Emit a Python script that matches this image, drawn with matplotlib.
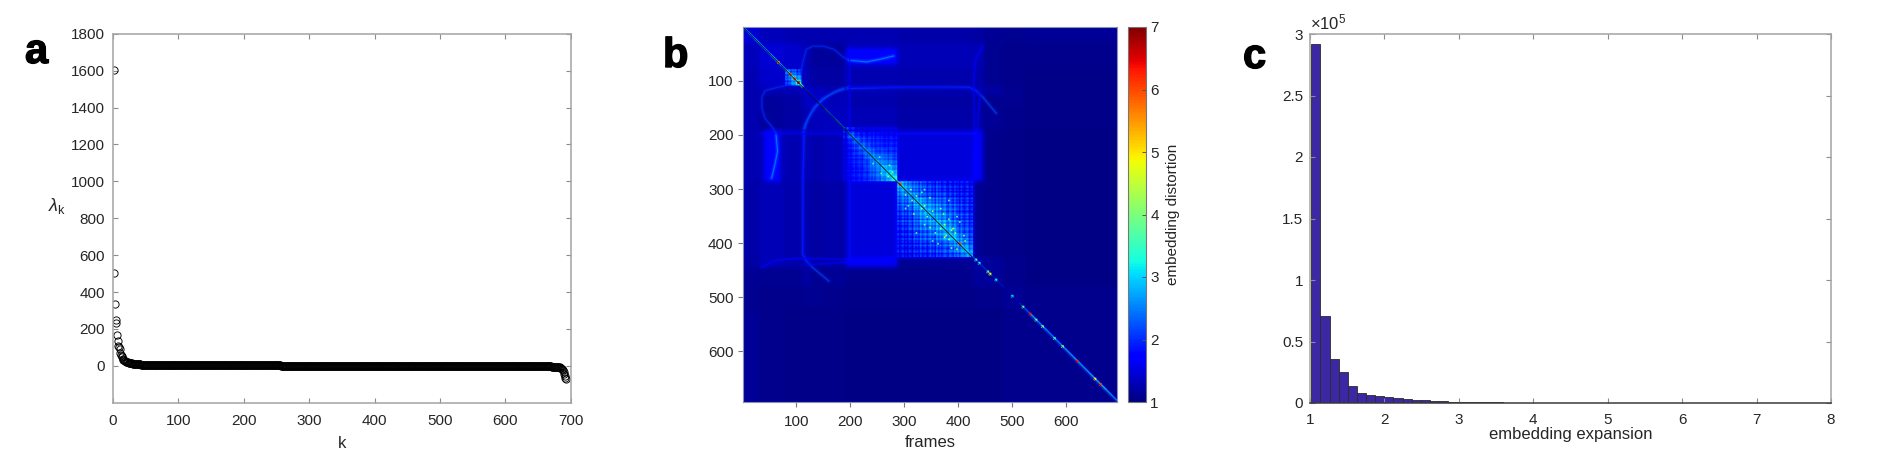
import numpy as np
import matplotlib
matplotlib.use("Agg")
import matplotlib.pyplot as plt
import matplotlib.patheffects as pe

plt.rcParams['font.family'] = ['Liberation Sans', 'DejaVu Sans']
plt.rcParams['mathtext.fontset'] = 'custom'
plt.rcParams['mathtext.rm'] = 'Liberation Sans'
plt.rcParams['mathtext.it'] = 'Liberation Sans:italic'
plt.rcParams['font.size'] = 11

W, H = 1895, 454
TXT = '#262626'
GREY = '#a3a3a3'

# panel a: eigenvalues, leading ones read one by one, then runs of nearly equal values
lambda_head = [1605, 505, 335, 250, 230, 165, 135, 105, 100, 90, 72, 60, 52, 45, 38, 33, 30, 27, 25, 23,
               21, 20, 18.5, 17, 16, 15, 14, 13.2, 12.5, 12, 11.4, 10.9, 10.4, 10, 9.6, 9.2, 8.8, 8.5, 8.2, 7.9,
               7.6, 7.3, 7, 6.8, 6.6, 6.4, 6.2, 6, 5.8, 5.6]
lambda_runs = [5, 4.5, 4, 3.5, 3, 2.5, 2, 1.5, 1, 0.5, 0, -0.5, -1, -1.5, -2, -2.5, -3, -4]
lambda_run_len = [8, 12, 18, 28, 40, 50, 50, 50, 50, 50, 50, 50, 40, 40, 30, 30, 24, 8]
lambda_tail = [-5, -5.5, -6, -7, -8, -10, -12, -15, -19, -25, -33, -42, -55, -65, -72]

# panel b: coarse regions of the distortion matrix (frames), upper triangle is read
region_edges = [0, 30, 75, 110, 125, 150, 190, 285, 425, 445, 480, 520, 693]
region_vals = [
    [1.45, 1.32, 1.28, 1.28, 1.28, 1.28, 1.28, 1.22, 1.20, 1.12, 1.10, 1.12],
    [0, 1.45, 1.40, 1.28, 1.16, 1.16, 1.30, 1.30, 1.30, 1.10, 1.08, 1.08],
    [0, 0, 1.45, 1.30, 1.20, 1.20, 1.28, 1.25, 1.25, 1.10, 1.08, 1.06],
    [0, 0, 0, 1.40, 1.35, 1.28, 1.30, 1.25, 1.30, 1.20, 1.10, 1.06],
    [0, 0, 0, 0, 1.40, 1.32, 1.25, 1.20, 1.20, 1.10, 1.10, 1.05],
    [0, 0, 0, 0, 0, 1.35, 1.30, 1.22, 1.20, 1.12, 1.08, 1.05],
    [0, 0, 0, 0, 0, 0, 1.80, 1.48, 1.40, 1.08, 1.05, 1.04],
    [0, 0, 0, 0, 0, 0, 0, 2.00, 1.12, 1.08, 1.05, 1.04],
    [0, 0, 0, 0, 0, 0, 0, 0, 1.25, 1.15, 1.08, 1.04],
    [0, 0, 0, 0, 0, 0, 0, 0, 0, 1.15, 1.08, 1.04],
    [0, 0, 0, 0, 0, 0, 0, 0, 0, 0, 1.12, 1.08],
    [0, 0, 0, 0, 0, 0, 0, 0, 0, 0, 0, 1.08],
]
# brighter patches on top of the regions: first row, last row, first col, last col, value
patch_r0 = [42, 190, 190]
patch_r1 = [68, 285, 285]
patch_c0 = [195, 40, 425]
patch_c1 = [285, 62, 442]
patch_v = [1.85, 1.75, 1.65]

# block of frames 78-108, upper triangle
block_c_edges = [78, 108]
block_c = [[2.3, 2.2, 2.0], [0, 2.7, 2.5], [0, 0, 3.0]]
block_c_stripes = [0.1, -0.1, 0.2, -0.15, 0.1, 0, 0.15, -0.1, 0.2, 0]

# block of frames 185-285, upper triangle
block_a_edges = [185, 285]
block_a = [
    [2.2, 1.9, 1.7, 1.6, 1.6, 1.6, 1.6, 1.6, 1.6, 1.6],
    [0, 2.3, 2.0, 1.9, 1.8, 1.8, 1.8, 1.7, 1.7, 1.7],
    [0, 0, 2.3, 2.1, 2.0, 1.9, 1.9, 1.8, 1.8, 1.8],
    [0, 0, 0, 2.4, 2.2, 2.0, 2.0, 1.9, 1.9, 1.9],
    [0, 0, 0, 0, 2.4, 2.3, 2.1, 2.1, 2.0, 2.0],
    [0, 0, 0, 0, 0, 2.5, 2.4, 2.3, 2.2, 2.1],
    [0, 0, 0, 0, 0, 0, 2.6, 2.5, 2.4, 2.3],
    [0, 0, 0, 0, 0, 0, 0, 2.8, 2.7, 2.5],
    [0, 0, 0, 0, 0, 0, 0, 0, 3.0, 2.8],
    [0, 0, 0, 0, 0, 0, 0, 0, 0, 3.2],
]
block_a_stripes = [0.05, -0.1, 0.1, 0, -0.12, 0.08, 0.12, -0.1, 0, 0.1, -0.05, -0.12, 0.12, 0.02, -0.14, 0.06, 0.1,
                   -0.08, 0.14, -0.12, 0.02, 0.08, -0.1, 0.12, 0.02, -0.06, 0.1, -0.14, 0.06, 0.12, -0.02, -0.1, 0.08]

# block of frames 285-425, upper triangle
block_b_edges = [285, 425]
block_b = [
    [2.7, 2.6, 2.4, 2.2, 2.1, 2.0, 1.9, 1.9, 1.8, 1.8, 1.7, 1.7, 1.7, 1.6],
    [0, 2.7, 2.5, 2.3, 2.2, 2.1, 2.0, 2.0, 1.9, 1.9, 1.8, 1.8, 1.7, 1.7],
    [0, 0, 2.7, 2.5, 2.3, 2.2, 2.1, 2.1, 2.1, 2.0, 1.9, 1.8, 1.8, 1.7],
    [0, 0, 0, 2.7, 2.6, 2.4, 2.3, 2.2, 2.2, 2.1, 2.0, 1.9, 1.8, 1.8],
    [0, 0, 0, 0, 2.7, 2.6, 2.5, 2.4, 2.3, 2.2, 2.1, 2.0, 1.9, 1.8],
    [0, 0, 0, 0, 0, 2.8, 2.6, 2.5, 2.4, 2.3, 2.2, 2.0, 1.9, 1.8],
    [0, 0, 0, 0, 0, 0, 2.7, 2.6, 2.5, 2.4, 2.2, 2.1, 2.0, 1.9],
    [0, 0, 0, 0, 0, 0, 0, 2.7, 2.6, 2.5, 2.3, 2.1, 2.0, 1.9],
    [0, 0, 0, 0, 0, 0, 0, 0, 2.8, 2.7, 2.5, 2.2, 2.1, 2.0],
    [0, 0, 0, 0, 0, 0, 0, 0, 0, 2.8, 2.7, 2.4, 2.2, 2.1],
    [0, 0, 0, 0, 0, 0, 0, 0, 0, 0, 2.8, 2.5, 2.3, 2.1],
    [0, 0, 0, 0, 0, 0, 0, 0, 0, 0, 0, 2.6, 2.5, 2.3],
    [0, 0, 0, 0, 0, 0, 0, 0, 0, 0, 0, 0, 2.7, 2.5],
    [0, 0, 0, 0, 0, 0, 0, 0, 0, 0, 0, 0, 0, 2.6],
]
block_b_stripes = [0.2, -0.2, 0.05, 0.25, -0.15, 0.1, -0.25, 0.15, 0.02, -0.3, 0.22, -0.05, 0.12, -0.2, 0.28, -0.1, 0.05,
                   0.18, -0.25, 0.02, 0.24, -0.15, 0.08, -0.28, 0.3, -0.1, 0.15, -0.2, 0.05, 0.22, -0.12, -0.24, 0.18,
                   0.04, -0.16, 0.26, -0.06, 0.1, -0.26, 0.2, 0.02, -0.18, 0.12, 0.28, -0.22, 0.06, 0.16]

speck_rows = [300, 305, 315, 320, 330, 335, 345, 350, 360, 372, 375, 380, 385, 395, 300, 312, 340, 355, 365, 240, 255, 268]
speck_cols = [310, 330, 345, 380, 335, 365, 370, 395, 400, 388, 385, 392, 408, 410, 335, 320, 350, 380, 372, 252, 270, 276]
speck_vals = [4.2, 3.8, 4.2, 3.8, 4.4, 4.0, 4.2, 3.6, 3.8, 4.6, 4.4, 4.2, 4.4, 4.0, 3.6, 4.2, 4.0, 3.8, 4.5, 3.6, 3.8, 4.2]

# strength next to the diagonal, one value per 10 frames
diag_strength = [2.8, 3.0, 3.2, 3.0, 3.0, 3.3, 3.4, 3.0, 4.0, 4.4,
                 4.6, 2.6, 2.4, 2.4, 2.8, 3.4, 3.2, 3.6, 3.4, 3.2,
                 3.6, 3.0, 3.8, 3.2, 3.8, 3.2, 3.4, 4.2, 4.4, 4.6,
                 4.0, 3.4, 4.2, 3.4, 3.8, 3.2, 4.0, 3.4, 4.2, 3.6,
                 4.4, 3.6, 3.0, 2.4, 2.6, 2.6, 2.0, 2.2, 1.7, 1.6,
                 1.8, 2.4, 2.6, 3.4, 3.0, 3.2, 3.0, 3.0, 3.0, 3.2,
                 3.2, 3.4, 3.2, 3.2, 3.4, 3.4, 3.6, 3.2, 3.0, 2.8]
falloff_narrow = [0.8, 0.35, 0.12]
falloff_wide = [1.0, 0.7, 0.42, 0.25, 0.12, 0.05]
wide_ranges = [(0, 110), (520, 693)]

hot_frames = [65, 87, 95, 102, 290, 400, 430, 436, 452, 456, 467, 497, 517, 530, 541, 553, 575, 590, 617, 650, 660]
hot_vals = [5.6, 6.0, 6.0, 6.4, 6.0, 6.0, 3.4, 3.2, 3.6, 4.8, 3.2, 3.0, 3.6, 6.2, 3.8, 4.0, 3.6, 4.0, 6.2, 4.8, 6.0]

# thin curves of the matrix, (col, row), drawn mirrored too
arc_cols = [[108, 112, 118, 130, 150, 170, 185, 197],
            [197, 230, 255, 280],
            [111, 116, 127, 148, 173, 197, 280, 420, 432, 445, 470],
            [112, 112, 113, 125, 190, 285],
            [445, 432, 428, 430, 432],
            [35, 190],
            [285, 430],
            [190, 190]]
arc_rows = [[85, 65, 42, 36, 36, 42, 55, 62],
            [62, 65, 60, 54],
            [197, 180, 160, 133, 120, 114, 112, 112, 118, 130, 160],
            [197, 300, 420, 440, 435, 425],
            [35, 60, 100, 200, 285],
            [197, 197],
            [197, 197],
            [62, 285]]
arc_vals = [2.0, 2.6, 2.15, 1.7, 1.75, 1.7, 1.8, 1.4]

# panel c: histogram, counts per bin, in units of 1e5
hist_start = 1.018
hist_width = 0.1226
hist_counts = [2.92, 0.71, 0.36, 0.25, 0.135, 0.08, 0.062, 0.055, 0.047, 0.04, 0.033, 0.027, 0.022, 0.018,
               0.015, 0.012, 0.01, 0.008, 0.007, 0.006, 0.005, 0.004, 0.0035, 0.003, 0.0025, 0.002, 0.0018, 0.0015,
               0.0012, 0.001, 0.0008, 0.0007, 0.0006, 0.0005, 0.0004, 0.0003, 0.0003, 0.0002, 0.0002, 0.0002,
               0.0001, 0.0001, 0.0001, 0.0001, 0.0001, 0.0001, 0.0001, 0.0001, 0.0001, 0.0001, 0.0001, 0.0001,
               0.0001, 0.0001, 0.0001, 0.0001, 0.0001]


def px_axes(fig, left, top, right, bottom):
    return fig.add_axes([left / W, 1 - bottom / H, (right - left) / W, (bottom - top) / H])


def style_box(ax):
    for s in ax.spines.values():
        s.set_color(GREY)
        s.set_linewidth(1.1)
    ax.tick_params(direction='in', length=3.6, width=0.8, color='#8c8c8c', labelcolor=TXT,
                   labelsize=11, top=True, right=True, pad=6)


def panel_letter(fig, x, y, s):
    t = fig.text(x / W, 1 - y / H, s, fontsize=30, fontweight='bold', color='k')
    t.set_path_effects([pe.withStroke(linewidth=1.0, foreground='k')])


def soften(m, size, passes):
    # box blur of the coarse regions so their borders do not show
    kernel = np.ones(size) / size
    pad = size // 2
    for _ in range(passes):
        for axis in (0, 1):
            p = np.pad(m, [(pad, pad) if a == axis else (0, 0) for a in (0, 1)], mode='edge')
            m = np.apply_along_axis(lambda r: np.convolve(r, kernel, mode='valid'), axis, p)
    return m


def fill_block(m, start, stop, cells, stripes):
    cells = np.array(cells, dtype=float)
    cells = cells + np.triu(cells, 1).T
    n = stop - start
    for i in range(n):
        ci = i * len(cells) // n
        si = stripes[i * len(stripes) // n]
        for j in range(n):
            cj = j * len(cells) // n
            sj = stripes[j * len(stripes) // n]
            m[start + i, start + j] = max(1.3, cells[ci, cj] + si + sj)


def build_matrix():
    n = region_edges[-1]
    m = np.ones((n, n))
    for i in range(len(region_vals)):
        for j in range(i, len(region_vals)):
            v = region_vals[i][j]
            m[region_edges[i]:region_edges[i + 1], region_edges[j]:region_edges[j + 1]] = v
            m[region_edges[j]:region_edges[j + 1], region_edges[i]:region_edges[i + 1]] = v
    for r0, r1, c0, c1, v in zip(patch_r0, patch_r1, patch_c0, patch_c1, patch_v):
        m[r0:r1, c0:c1] = v
        m[c0:c1, r0:r1] = v
    m = soften(m, 9, 2)
    fill_block(m, block_c_edges[0], block_c_edges[1], block_c, block_c_stripes)
    fill_block(m, block_a_edges[0], block_a_edges[1], block_a, block_a_stripes)
    fill_block(m, block_b_edges[0], block_b_edges[1], block_b, block_b_stripes)
    for r, c, v in zip(speck_rows, speck_cols, speck_vals):
        m[r - 1:r + 2, c - 1:c + 2] = v
        m[c - 1:c + 2, r - 1:r + 2] = v
    # band along the diagonal
    for i in range(n):
        s = diag_strength[i // 10]
        falloff = falloff_narrow
        for lo, hi in wide_ranges:
            if lo <= i < hi:
                falloff = falloff_wide
        for off, f in enumerate(falloff):
            j = i + off + 1
            if j < n:
                v = 1 + (s - 1) * f
                m[i, j] = max(m[i, j], v)
                m[j, i] = max(m[j, i], v)
    for f, v in zip(hot_frames, hot_vals):
        m[f - 2:f + 3, f - 2:f + 3] = v
    return m


fig = plt.figure(figsize=(W / 100, H / 100), dpi=100)

# a
ax = px_axes(fig, 113, 33.7, 570.7, 402.7)
lam = np.concatenate([lambda_head, np.repeat(lambda_runs, lambda_run_len), lambda_tail])
k = np.arange(1, len(lam) + 1)
line, = ax.plot(k, lam, 'o', mfc='none', mec='k', ms=5.2, mew=0.65)
line.set_snap(False)
ax.set_xlim(0, 700)
ax.set_ylim(-200, 1800)
ax.set_xticks(np.arange(0, 701, 100))
ax.set_yticks(np.arange(0, 1801, 200))
style_box(ax)
ax.tick_params(axis='x', pad=8)
ax.set_xlabel('k', color=TXT, fontsize=12, labelpad=6)
fig.text(57 / W, 1 - 206 / H, r'$\lambda_{\mathrm{k}}$', color=TXT, fontsize=13, ha='center', va='center')
panel_letter(fig, 25, 63, 'a')

# b
ax = px_axes(fig, 742.7, 27, 1117, 402)
mat = build_matrix()
norm = matplotlib.colors.Normalize(1, 7)
im = ax.imshow(mat, cmap='jet', norm=norm, aspect='auto', extent=(0.5, len(mat) + 0.5, len(mat) + 0.5, 0.5))
for cols, rows, v in zip(arc_cols, arc_rows, arc_vals):
    col = plt.cm.jet(norm(v))
    for xs, ys in ((cols, rows), (rows, cols)):
        ax.plot(xs, ys, color=col, lw=3.5, alpha=0.12, solid_capstyle='round')
        ax.plot(xs, ys, color=col, lw=1.8, alpha=0.22, solid_capstyle='round')
        ax.plot(xs, ys, color=col, lw=0.7, alpha=0.7, solid_capstyle='round')
ax.plot([1, 425], [1, 425], color='k', lw=0.6, alpha=0.9)
ax.plot([425, 693], [425, 693], color='#000050', lw=0.5, alpha=0.8)
ax.set_xlim(0.5, len(mat) + 0.5)
ax.set_ylim(len(mat) + 0.5, 0.5)
ax.set_xticks(np.arange(100, 601, 100))
ax.set_yticks(np.arange(100, 601, 100))
for s in ax.spines.values():
    s.set_color('#8a8fc0')
    s.set_linewidth(0.8)
ax.tick_params(direction='out', length=3.6, width=0.8, color='#7a7a7a', labelcolor=TXT, labelsize=11, pad=3)
ax.tick_params(axis='x', pad=6)
ax.set_xlabel('frames', color=TXT, fontsize=12, labelpad=4)
cax = px_axes(fig, 1128, 27, 1146, 402)
cb = fig.colorbar(im, cax=cax)
cb.set_ticks(np.arange(1, 8))
cb.ax.tick_params(direction='in', length=3, width=0.7, color='#555555', labelcolor=TXT, labelsize=11, pad=3)
cb.outline.set_edgecolor('#777777')
cb.outline.set_linewidth(0.8)
cb.set_label('embedding distortion', color=TXT, fontsize=11, labelpad=5)
panel_letter(fig, 663, 67, 'b')

# c
ax = px_axes(fig, 1310, 34, 1831, 403)
lefts = hist_start + hist_width * np.arange(len(hist_counts))
ax.bar(lefts, np.array(hist_counts) * 1e5, width=hist_width, align='edge', color='#3c28a2', edgecolor='#2b2b2b', linewidth=0.6)
ax.set_xlim(1, 8)
ax.set_ylim(0, 3e5)
ax.set_xticks(np.arange(1, 9))
ax.set_yticks(np.arange(0, 3.01, 0.5) * 1e5)
ax.set_yticklabels(['0', '0.5', '1', '1.5', '2', '2.5', '3'])
style_box(ax)
ax.spines['bottom'].set_color('#3a3a3a')
ax.tick_params(axis='x', pad=7)
ax.tick_params(axis='y', pad=5)
ax.set_xlabel('embedding expansion', color=TXT, fontsize=12, labelpad=0)
ax.text(0, 1.005, r'$\times$10$^{5}$', transform=ax.transAxes, color=TXT, fontsize=12, ha='left', va='bottom')
panel_letter(fig, 1243, 68, 'c')

fig.savefig('out.png', dpi=100)
